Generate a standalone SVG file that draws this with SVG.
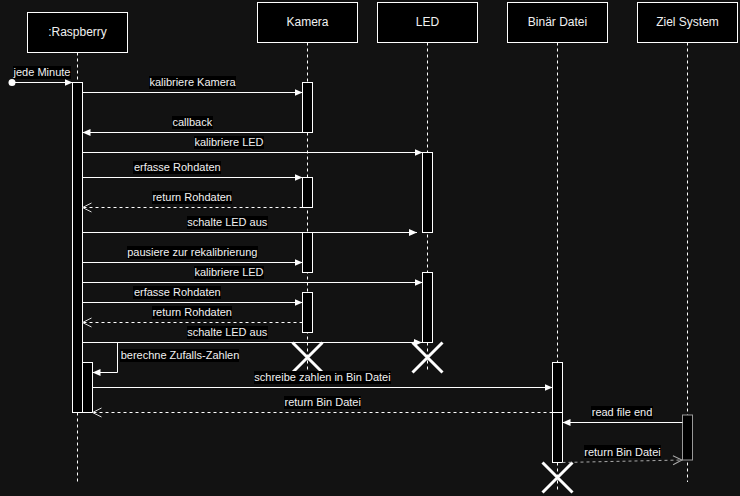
<svg xmlns="http://www.w3.org/2000/svg" width="740" height="496" viewBox="0 0 740 496">
<defs>
<style>
.bg{fill:#121212}
.box{fill:#000;stroke:#fff;stroke-width:1}
.hdr{font-family:"Liberation Sans",Arial,sans-serif;font-size:12px;fill:#f0f0f0;text-anchor:middle}
.life{stroke:#fff;stroke-width:1;stroke-dasharray:3 3;fill:none}
.act{fill:#000;stroke:#fff;stroke-width:1}
.actg{fill:#000;stroke:#999;stroke-width:1}
.msg{stroke:#fff;stroke-width:1;fill:none;marker-end:url(#block)}
.ret{stroke:#fff;stroke-width:1;fill:none;stroke-dasharray:3 3;marker-end:url(#open)}
.retg{stroke:#aaa;stroke-width:1;fill:none;stroke-dasharray:3 3;marker-end:url(#openg)}
.lbg{fill:#000}
.lbl{font-family:"Liberation Sans",Arial,sans-serif;font-size:11px;fill:#f0f0f0;text-anchor:middle}
.x{stroke:#fff;stroke-width:3;fill:none}
</style>
<marker id="block" markerUnits="userSpaceOnUse" markerWidth="9" markerHeight="8" refX="8" refY="3.5" orient="auto">
<path d="M0,0 L8,3.5 L0,7 z" fill="#fff"/>
</marker>
<marker id="open" markerUnits="userSpaceOnUse" markerWidth="12" markerHeight="12" refX="10" refY="5" orient="auto">
<path d="M1,0.5 L10,5 L1,9.5" fill="none" stroke="#ddd" stroke-width="1"/>
</marker>
<marker id="openg" markerUnits="userSpaceOnUse" markerWidth="12" markerHeight="12" refX="10" refY="5" orient="auto">
<path d="M1,0.5 L10,5 L1,9.5" fill="none" stroke="#aaa" stroke-width="1"/>
</marker>
</defs>
<rect class="bg" x="0" y="0" width="740" height="496"/>

<g id="lifelines">
<line class="life" x1="77.5" y1="52.5" x2="77.5" y2="482"/>
<line class="life" x1="307.5" y1="42.5" x2="307.5" y2="372"/>
<line class="life" x1="427.5" y1="42.5" x2="427.5" y2="372"/>
<line class="life" x1="557.5" y1="42.5" x2="557.5" y2="492"/>
<line class="life" x1="687.5" y1="42.5" x2="687.5" y2="482"/>
</g>

<g id="raspberry">
<rect class="box" x="27.5" y="12.5" width="100" height="40"/>
<text class="hdr" x="77.5" y="36">:Raspberry</text>
<rect class="act" x="72.5" y="82.5" width="10" height="330"/>
<rect class="act" x="82.5" y="362.5" width="10" height="50"/>
</g>
<g id="kamera">
<rect class="box" x="257.5" y="2.5" width="100" height="40"/>
<text class="hdr" x="307.5" y="26">Kamera</text>
<rect class="act" x="302.5" y="82.5" width="10" height="50"/>
<rect class="act" x="302.5" y="177.5" width="10" height="30"/>
<rect class="act" x="302.5" y="232.5" width="10" height="40"/>
<rect class="act" x="302.5" y="292.5" width="10" height="40"/>
<path class="x" d="M292.5,342.5 L322.5,372.5 M322.5,342.5 L292.5,372.5"/>
</g>
<g id="led">
<rect class="box" x="377.5" y="2.5" width="100" height="40"/>
<text class="hdr" x="427.5" y="26">LED</text>
<rect class="act" x="422.5" y="152.5" width="10" height="80"/>
<rect class="act" x="422.5" y="272.5" width="10" height="70"/>
<path class="x" d="M412.5,342.5 L442.5,372.5 M442.5,342.5 L412.5,372.5"/>
</g>
<g id="binaer-datei">
<rect class="box" x="507.5" y="2.5" width="100" height="40"/>
<text class="hdr" x="557.5" y="26">Binär Datei</text>
<rect class="act" x="552.5" y="362.5" width="10" height="100"/>
<path class="x" d="M542.5,462.5 L572.5,492.5 M572.5,462.5 L542.5,492.5"/>
</g>
<g id="ziel-system">
<rect class="box" x="637.5" y="2.5" width="100" height="40"/>
<text class="hdr" x="687.5" y="26">Ziel System</text>
<rect class="actg" x="682.5" y="415" width="10" height="45"/>
</g>

<g id="connectors">
<circle cx="12" cy="82.5" r="3.5" fill="#fff"/>
<line class="msg" x1="12" y1="82.5" x2="72.5" y2="82.5"/>
<line class="msg" x1="82.5" y1="92.5" x2="302.5" y2="92.5"/>
<line class="msg" x1="302.5" y1="132.5" x2="82.5" y2="132.5"/>
<line class="msg" x1="82.5" y1="152.5" x2="422.5" y2="152.5"/>
<line class="msg" x1="82.5" y1="177.5" x2="302.5" y2="177.5"/>
<line class="ret" x1="302.5" y1="207.5" x2="82.5" y2="207.5"/>
<line class="msg" x1="82.5" y1="232.5" x2="417" y2="232.5"/>
<line class="msg" x1="82.5" y1="262.5" x2="302.5" y2="262.5"/>
<line class="msg" x1="82.5" y1="282.5" x2="422.5" y2="282.5"/>
<line class="msg" x1="82.5" y1="302.5" x2="302.5" y2="302.5"/>
<line class="ret" x1="302.5" y1="322.5" x2="82.5" y2="322.5"/>
<line class="msg" x1="82.5" y1="342.5" x2="422" y2="342.5"/>
<path class="msg" d="M82.5,342.5 H117.5 V372.5 H92.5"/>
<line class="msg" x1="92.5" y1="387.5" x2="552.5" y2="387.5"/>
<line stroke="#fff" stroke-width="1" x1="552.5" y1="412.5" x2="562.5" y2="412.5"/>
<line class="ret" x1="552.5" y1="412.5" x2="92.5" y2="412.5"/>
<line class="msg" x1="682.5" y1="422.5" x2="562.5" y2="422.5"/>
<line class="retg" x1="562.5" y1="462.5" x2="682" y2="460"/>
</g>

<g id="labels">
<rect class="lbg" x="13" y="66" width="58" height="13"/>
<text class="lbl" x="42" y="76">jede Minute</text>
<rect class="lbg" x="149" y="76" width="87" height="13"/>
<text class="lbl" x="192.5" y="86">kalibriere Kamera</text>
<rect class="lbg" x="172" y="116" width="41" height="13"/>
<text class="lbl" x="192.3" y="126">callback</text>
<rect class="lbg" x="194" y="136" width="70" height="13"/>
<text class="lbl" x="229" y="146">kalibriere LED</text>
<rect class="lbg" x="133" y="161" width="88" height="13"/>
<text class="lbl" x="177.3" y="171">erfasse Rohdaten</text>
<rect class="lbg" x="152" y="191" width="80" height="13"/>
<text class="lbl" x="192.2" y="201">return Rohdaten</text>
<rect class="lbg" x="187" y="216" width="81" height="13"/>
<text class="lbl" x="227.3" y="226">schalte LED aus</text>
<rect class="lbg" x="127" y="246" width="131" height="13"/>
<text class="lbl" x="192.3" y="256">pausiere zur rekalibrierung</text>
<rect class="lbg" x="194" y="266" width="70" height="13"/>
<text class="lbl" x="229" y="276">kalibriere LED</text>
<rect class="lbg" x="133" y="286" width="88" height="13"/>
<text class="lbl" x="177.3" y="296">erfasse Rohdaten</text>
<rect class="lbg" x="152" y="306" width="80" height="13"/>
<text class="lbl" x="192.2" y="316">return Rohdaten</text>
<rect class="lbg" x="187" y="326" width="81" height="13"/>
<text class="lbl" x="227.3" y="336">schalte LED aus</text>
<rect class="lbg" x="120" y="349" width="119" height="13"/>
<text class="lbl" x="180" y="359">berechne Zufalls-Zahlen</text>
<rect class="lbg" x="254" y="371" width="137" height="13"/>
<text class="lbl" x="322.5" y="381">schreibe zahlen in Bin Datei</text>
<rect class="lbg" x="284" y="396" width="77" height="13"/>
<text class="lbl" x="322.7" y="406">return Bin Datei</text>
<rect class="lbg" x="591" y="406" width="62" height="13"/>
<text class="lbl" x="622" y="416">read file end</text>
<rect class="lbg" x="584" y="445" width="77" height="13"/>
<text class="lbl" x="622.5" y="455.5">return Bin Datei</text>
</g>
</svg>
